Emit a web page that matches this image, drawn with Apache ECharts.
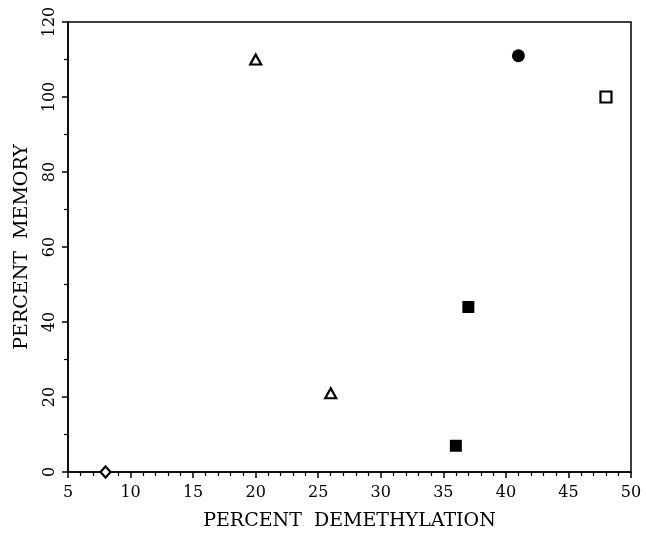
<!DOCTYPE html>
<html>
<head>
<meta charset="utf-8">
<script src="https://cdn.jsdelivr.net/npm/echarts@6/dist/echarts.min.js"></script>
<style>
	html, body { margin: 0; padding: 0; background: #fff; }
	#chart { width: 646px; height: 533px; }
</style>
</head>
<body>
<div id="chart"></div>
<script>
// data: [percent demethylation, percent memory]
var diamondPts = [[8, 0]];
var openTrianglePts = [[20, 110], [26, 21]];
var filledSquarePts = [[36, 7], [37, 44]];
var filledCirclePts = [[41, 111]];
var openSquarePts = [[48, 100]];

var xTicks = { min: 5, max: 50, interval: 5 };
var yTicks = { min: 0, max: 120, interval: 20 };

var myChart = echarts.init(document.getElementById('chart'));
var font = 'DejaVu Serif';

function openMark(data, symbol, size) {
	return {
		type: 'scatter',
		data: data,
		symbol: symbol,
		symbolSize: size,
		itemStyle: { color: '#fff', borderColor: '#000', borderWidth: 2.2, opacity: 1 }
	};
}
function filledMark(data, symbol, size) {
	return {
		type: 'scatter',
		data: data,
		symbol: symbol,
		symbolSize: size,
		itemStyle: { color: '#000', opacity: 1 }
	};
}

var option = {
	animation: false,
	backgroundColor: '#fff',
	grid: {
		left: 68, right: 15, top: 22, bottom: 61,
		outerBoundsMode: 'none',
		containLabel: false,
		show: true, borderColor: '#000', borderWidth: 1.5, backgroundColor: 'transparent'
	},
	xAxis: {
		type: 'value',
		min: xTicks.min, max: xTicks.max, interval: xTicks.interval,
		name: 'PERCENT  DEMETHYLATION',
		nameLocation: 'middle',
		nameGap: 40,
		nameTextStyle: { fontFamily: font, fontSize: 19, color: '#000' },
		axisLine: { lineStyle: { color: '#000', width: 1.5 } },
		axisTick: { length: 6, lineStyle: { color: '#000', width: 1.5 } },
		minorTick: { show: true, splitNumber: 5, length: 4, lineStyle: { color: '#000', width: 1.2 } },
		axisLabel: { fontFamily: font, fontSize: 16, color: '#000', margin: 13 },
		splitLine: { show: false }
	},
	yAxis: {
		type: 'value',
		min: yTicks.min, max: yTicks.max, interval: yTicks.interval,
		name: 'PERCENT  MEMORY',
		nameLocation: 'middle',
		nameGap: 36,
		nameTextStyle: { fontFamily: font, fontSize: 19, color: '#000' },
		axisLine: { lineStyle: { color: '#000', width: 1.5 } },
		axisTick: { length: 6, lineStyle: { color: '#000', width: 1.5 } },
		minorTick: { show: true, splitNumber: 2, length: 4, lineStyle: { color: '#000', width: 1.2 } },
		axisLabel: { fontFamily: font, fontSize: 16, color: '#000', rotate: 90, margin: 10 },
		splitLine: { show: false }
	},
	series: [
		openMark(diamondPts, 'diamond', [10, 11]),
		openMark(openTrianglePts, 'triangle', [11, 10]),
		filledMark(filledSquarePts, 'rect', 12),
		filledMark(filledCirclePts, 'circle', 13),
		openMark(openSquarePts, 'rect', 11)
	]
};
myChart.setOption(option);
</script>
</body>
</html>
